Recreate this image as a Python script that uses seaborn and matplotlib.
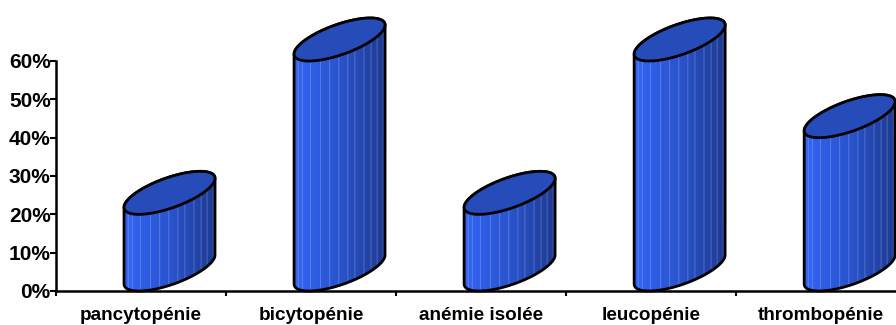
import matplotlib
matplotlib.use('Agg')
import numpy as np
import pandas as pd
import matplotlib.pyplot as plt
import seaborn as sns
from matplotlib.patches import PathPatch
from matplotlib.path import Path

# Data
categories = ['pancytopénie', 'bicytopénie', 'anémie isolée', 'leucopénie', 'thrombopénie']
values = [20, 60, 20, 60, 40]
y_ticks = [0, 10, 20, 30, 40, 50, 60]
y_labels = ['0%', '10%', '20%', '30%', '40%', '50%', '60%']

sns.set_theme(style='ticks')
plt.rcParams['font.family'] = ['Liberation Sans', 'DejaVu Sans']

fig = plt.figure(figsize=(8.96, 3.25), dpi=100)
ax = fig.add_axes([56 / 896, (325 - 291) / 325, 840 / 896, 230 / 325])

# pixels per unit on each axis
PX_X = 170
PX_Y = 230 / 60
WIDTH = 91  # cylinder width in px
HALF = WIDTH / 2

df = pd.DataFrame({'type': categories, 'pct': values})
sns.barplot(data=df, x='type', y='pct', width=WIDTH / PX_X, color='#2b55c8', saturation=1, ax=ax)


def ellipse(cx, base, start, stop):
    # slanted ellipse outline, base is the lowest point of the ellipse in data units
    t = np.linspace(start, stop, 120)
    x = cx + HALF * np.cos(t) / PX_X
    y = base + (21.5 + 14.5 * np.cos(t) + 15.9 * np.sin(t)) / PX_Y
    return np.column_stack([x, y])


# band colours of the side of the cylinder
left_col = np.array([50, 100, 245])
mid_col = np.array([42, 84, 205])
right_col = np.array([29, 58, 145])
pos = np.linspace(0, 1, WIDTH * 2)
band = np.column_stack([np.interp(pos, [0, 0.5, 1], [left_col[i], mid_col[i], right_col[i]]) for i in range(3)])
for s in [4, 8, 16, 26, 35, 44, 53, 60, 69, 76, 82, 88]:
    band[s * 2:s * 2 + 1] = band[s * 2:s * 2 + 1] * 0.6 + np.array([255, 255, 255]) * 0.4
band = (band[np.newaxis, :, :] / 255).clip(0, 1)

for bar in ax.patches:
    # the bar starts 17 px left of the category centre
    shift = (HALF - 17) / PX_X
    bar.set_x(bar.get_x() + shift)
    cx = bar.get_x() + bar.get_width() / 2
    h = bar.get_height()

    top_arc = ellipse(cx, h, np.pi, 0)
    bottom_arc = ellipse(cx, 0, 0, -np.pi)
    outline = np.vstack([top_arc, bottom_arc, top_arc[:1]])
    side = PathPatch(Path(outline), transform=ax.transData, fc='none', ec='black', lw=2.0,
                     zorder=4, clip_on=False, joinstyle='round')
    ax.add_patch(side)

    im = ax.imshow(band, extent=[bar.get_x(), bar.get_x() + bar.get_width(), 0, h + 45 / PX_Y],
                   aspect='auto', zorder=2, interpolation='bilinear')
    im.set_clip_box(fig.bbox)
    im.set_clip_path(Path(outline), transform=ax.transData)
    bar.set_clip_path(Path(outline), transform=ax.transData)

    lid = PathPatch(Path(ellipse(cx, h, 0, 2 * np.pi)), transform=ax.transData, fc='#264cb9', ec='black',
                    lw=2.0, zorder=5, clip_on=False)
    ax.add_patch(lid)

ax.set_xlim(-0.5, 4.44)
ax.set_ylim(0, 60)
ax.set_xlabel('')
ax.set_ylabel('')
ax.set_yticks(y_ticks)
ax.set_yticklabels(y_labels, fontsize=15, fontweight='bold', color='black')
ax.set_xticks(range(len(categories)))
ax.set_xticklabels(categories, fontsize=13.6, fontweight='bold', color='black')
ax.set_xticks([-0.5, 0.5, 1.5, 2.5, 3.5], minor=True)
ax.tick_params(axis='y', length=4.3, width=1.5, pad=-0.5, color='black')
ax.tick_params(axis='x', which='major', length=0, pad=11.5)
ax.tick_params(axis='x', which='minor', length=3.6, width=1.5, color='black')
sns.despine(ax=ax)
for side_name in ['left', 'bottom']:
    ax.spines[side_name].set_linewidth(1.8)
    ax.spines[side_name].set_color('black')
    ax.spines[side_name].set_zorder(6)

fig.savefig('out.png', dpi=100)
plt.close(fig)
